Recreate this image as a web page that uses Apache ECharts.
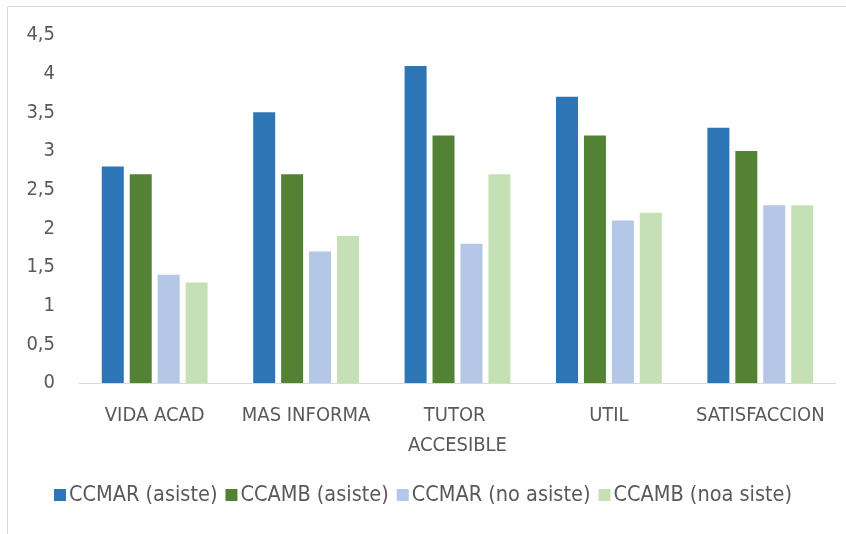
<!DOCTYPE html>
<html>
<head>
<meta charset="utf-8">
<script src="https://cdn.jsdelivr.net/npm/echarts@6/dist/echarts.min.js"></script>
<style>
  html, body { margin: 0; padding: 0; background: #fff; }
  #chart { width: 846px; height: 534px; }
</style>
</head>
<body>
<div id="chart"></div>
<script>
const categories = ["VIDA ACAD", "MAS INFORMA", "TUTOR ACCESIBLE", "UTIL", "SATISFACCION"];
const seriesNames = ["CCMAR (asiste)", "CCAMB (asiste)", "CCMAR (no asiste)", "CCAMB (noa siste)"];
const ccmarAsiste = [2.8, 3.5, 4.1, 3.7, 3.3];
const ccambAsiste = [2.7, 2.7, 3.2, 3.2, 3.0];
const ccmarNoAsiste = [1.4, 1.7, 1.8, 2.1, 2.3];
const ccambNoAsiste = [1.3, 1.9, 2.7, 2.2, 2.3];
const colors = ["#2E75B6", "#548235", "#B4C7E7", "#C5E0B4"];

const font = "'Liberation Sans Narrow', 'DejaVu Sans Condensed', 'Open Sans', sans-serif";
const values = [ccmarAsiste, ccambAsiste, ccmarNoAsiste, ccambNoAsiste];

let myChart = echarts.init(document.getElementById("chart"));
myChart.setOption({
  animation: false,
  color: colors,
  textStyle: { fontFamily: font },
  graphic: [{
    type: "rect",
    shape: { x: 7.5, y: 6.5, width: 860, height: 560 },
    style: { fill: "none", stroke: "#d9d9d9", lineWidth: 1 }
  }],
  grid: { left: 79, right: 10, top: 35, bottom: 151 },
  legend: {
    bottom: 23,
    left: "center",
    itemWidth: 12,
    itemHeight: 12,
    itemGap: 8,
    icon: "rect",
    textStyle: { fontSize: 21.5, color: "#595959", fontFamily: font, padding: [0, 0, 0, -2] },
    data: seriesNames
  },
  xAxis: {
    type: "category",
    data: categories,
    axisLine: { lineStyle: { color: "#d9d9d9", width: 1 } },
    axisTick: { show: false },
    axisLabel: {
      interval: 0,
      margin: 18,
      fontSize: 20,
      color: "#595959",
      fontFamily: font,
      lineHeight: 30,
      width: 150,
      overflow: "break"
    }
  },
  yAxis: {
    type: "value",
    min: 0,
    max: 4.5,
    interval: 0.5,
    splitLine: { show: false },
    axisLine: { show: false },
    axisTick: { show: false },
    axisLabel: {
      margin: 24,
      fontSize: 20,
      color: "#595959",
      fontFamily: font,
      formatter: (v) => String(v).replace(".", ",")
    }
  },
  series: seriesNames.map((name, i) => ({
    name: name,
    type: "bar",
    data: values[i],
    barWidth: 22,
    barGap: "27%",
    itemStyle: { color: colors[i] }
  }))
});
</script>
</body>
</html>
